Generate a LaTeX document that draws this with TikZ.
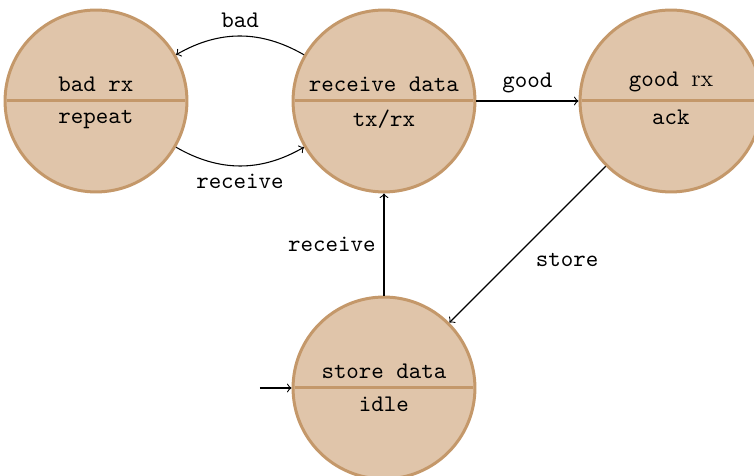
\documentclass[tikz,border=0pt]{standalone}
\usetikzlibrary{shapes.multipart}
\definecolor{statefill}{RGB}{224,197,170}
\definecolor{stateline}{RGB}{196,152,106}
\begin{document}
\begin{tikzpicture}[x=0.42pt,y=-0.42pt,
  statebox/.style={circle split, draw=stateline, fill=statefill, line width=1.26pt,
    minimum size=76.4pt, inner sep=0.3333em, font=\ttfamily},
  conn/.style={->, line width=0.45pt},
  lab/.style={font=\ttfamily}]
\useasboundingbox (0,0) rectangle (754,476);
\node[statebox] (bad) at (96,101) {bad rx \nodepart{lower} repeat};
\node[statebox] (rd) at (384,101) {receive data \nodepart{lower} tx/rx};
\node[statebox] (good) at (671,101) {good \textrm{rx} \nodepart{lower} ack};
\node[statebox] (sd) at (384,388) {store data \nodepart{lower} idle};
\coordinate (init) at (260,388);
\draw[conn] (rd) to[bend right=30] node[lab, above] {bad} (bad);
\draw[conn] (bad) to[bend right=30] node[lab, below] {receive} (rd);
\draw[conn] (rd) -- node[lab, above] {good} (good);
\draw[conn] (good) -- node[lab, below right] {store} (sd);
\draw[conn] (sd) -- node[lab, left] {receive} (rd);
\draw[conn] (init) -- (sd);
\end{tikzpicture}
\end{document}
